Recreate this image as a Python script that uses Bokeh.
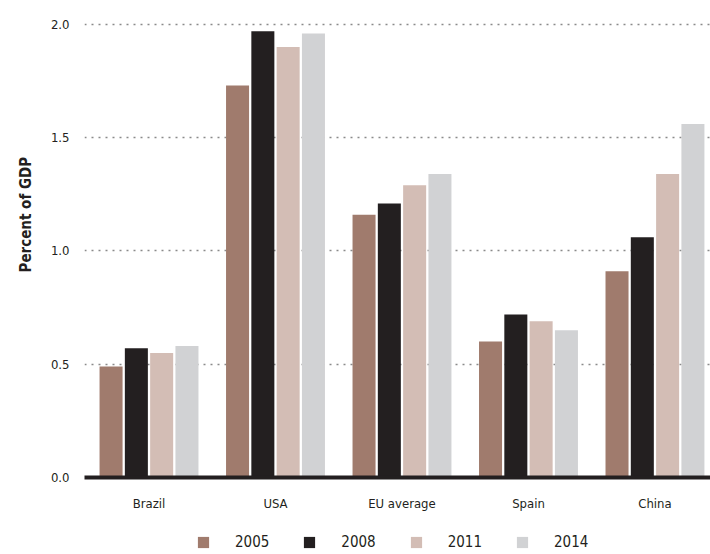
from bokeh.plotting import figure
from bokeh.layouts import column
from bokeh.models import (ColumnDataSource, Range1d, FixedTicker, Legend, LegendItem, Title)
from bokeh.embed import file_html
from bokeh.resources import INLINE

categories = ["Brazil", "USA", "EU average", "Spain", "China"]
years = ["2005", "2008", "2011", "2014"]
v2005 = [0.49, 1.73, 1.16, 0.60, 0.91]
v2008 = [0.57, 1.97, 1.21, 0.72, 1.06]
v2011 = [0.55, 1.90, 1.29, 0.69, 1.34]
v2014 = [0.58, 1.96, 1.34, 0.65, 1.56]
y_ticks = [0.0, 0.5, 1.0, 1.5, 2.0]

series = [v2005, v2008, v2011, v2014]
colors = ["#a07b6d", "#231f20", "#d3bdb5", "#d1d2d4"]
offsets = [-0.3, -0.1, 0.1, 0.3]

FONT = "DejaVu Sans Condensed"
TXT = "#231f20"

idx = list(range(len(categories)))

p = figure(width=710, height=514, output_backend="svg",
           toolbar_location=None, x_range=Range1d(-0.51, 4.439),
           y_range=Range1d(0, 2.035),
           min_border_left=84, min_border_top=16, min_border_right=0,
           min_border_bottom=37)
p.outline_line_color = None
p.background_fill_color = "white"

for yr, vals, col, off in zip(years, series, colors, offsets):
    src = ColumnDataSource(dict(x=[i + off for i in idx], top=vals))
    p.vbar(x="x", top="top", width=0.182, source=src, fill_color=col,
           line_color=None)

# axes
p.xaxis.ticker = FixedTicker(ticks=idx)
p.xaxis.major_label_overrides = {i: c for i, c in zip(idx, categories)}
p.xaxis.major_tick_line_color = None
p.xaxis.minor_tick_line_color = None
p.xaxis.axis_line_color = TXT
p.xaxis.axis_line_width = 4
p.xaxis.major_label_standoff = 12
p.xaxis.major_label_text_font = FONT
p.xaxis.major_label_text_font_size = "13px"
p.xaxis.major_label_text_color = TXT
p.xgrid.grid_line_color = None

p.yaxis.ticker = FixedTicker(ticks=y_ticks)
p.yaxis.major_label_overrides = {t: f"{t:.1f}" for t in y_ticks}
p.yaxis.axis_line_color = None
p.yaxis.major_tick_line_color = None
p.yaxis.minor_tick_line_color = None
p.yaxis.major_label_standoff = 9
p.yaxis.major_label_text_font = FONT
p.yaxis.major_label_text_font_size = "13px"
p.yaxis.major_label_text_color = TXT

ylabel = Title(text="Percent of GDP", align="left", offset=205, standoff=26,
               text_font=FONT, text_font_style="bold", text_font_size="15px",
               text_color=TXT)
p.add_layout(ylabel, "left")

p.ygrid.grid_line_color = "#8a8a8a"
p.ygrid.grid_line_width = 1.5
p.ygrid.grid_line_dash = "2 5"

# legend strip
lg = figure(width=710, height=40, output_backend="svg", toolbar_location=None,
            x_axis_type=None, y_axis_type=None, x_range=Range1d(0, 1),
            y_range=Range1d(0, 1), min_border_left=84, min_border_right=0,
            min_border_top=0, min_border_bottom=0)
lg.outline_line_color = None
lg.xgrid.visible = False
lg.ygrid.visible = False
items = []
for yr, col in zip(years, colors):
    r = lg.vbar(x=[0], top=[0], width=0.0, fill_color=col, line_color=None)
    items.append(LegendItem(label=yr, renderers=[r]))
legend = Legend(items=items, orientation="horizontal", location=(112, 3),
                glyph_width=14, glyph_height=14, label_standoff=25,
                spacing=33, padding=0, margin=0,
                label_text_font=FONT, label_text_font_size="15px",
                label_text_color=TXT, border_line_color=None,
                background_fill_alpha=0)
lg.add_layout(legend, "center")

layout = column(p, lg, spacing=0)
open("out.html", "w").write(file_html(layout, INLINE))
